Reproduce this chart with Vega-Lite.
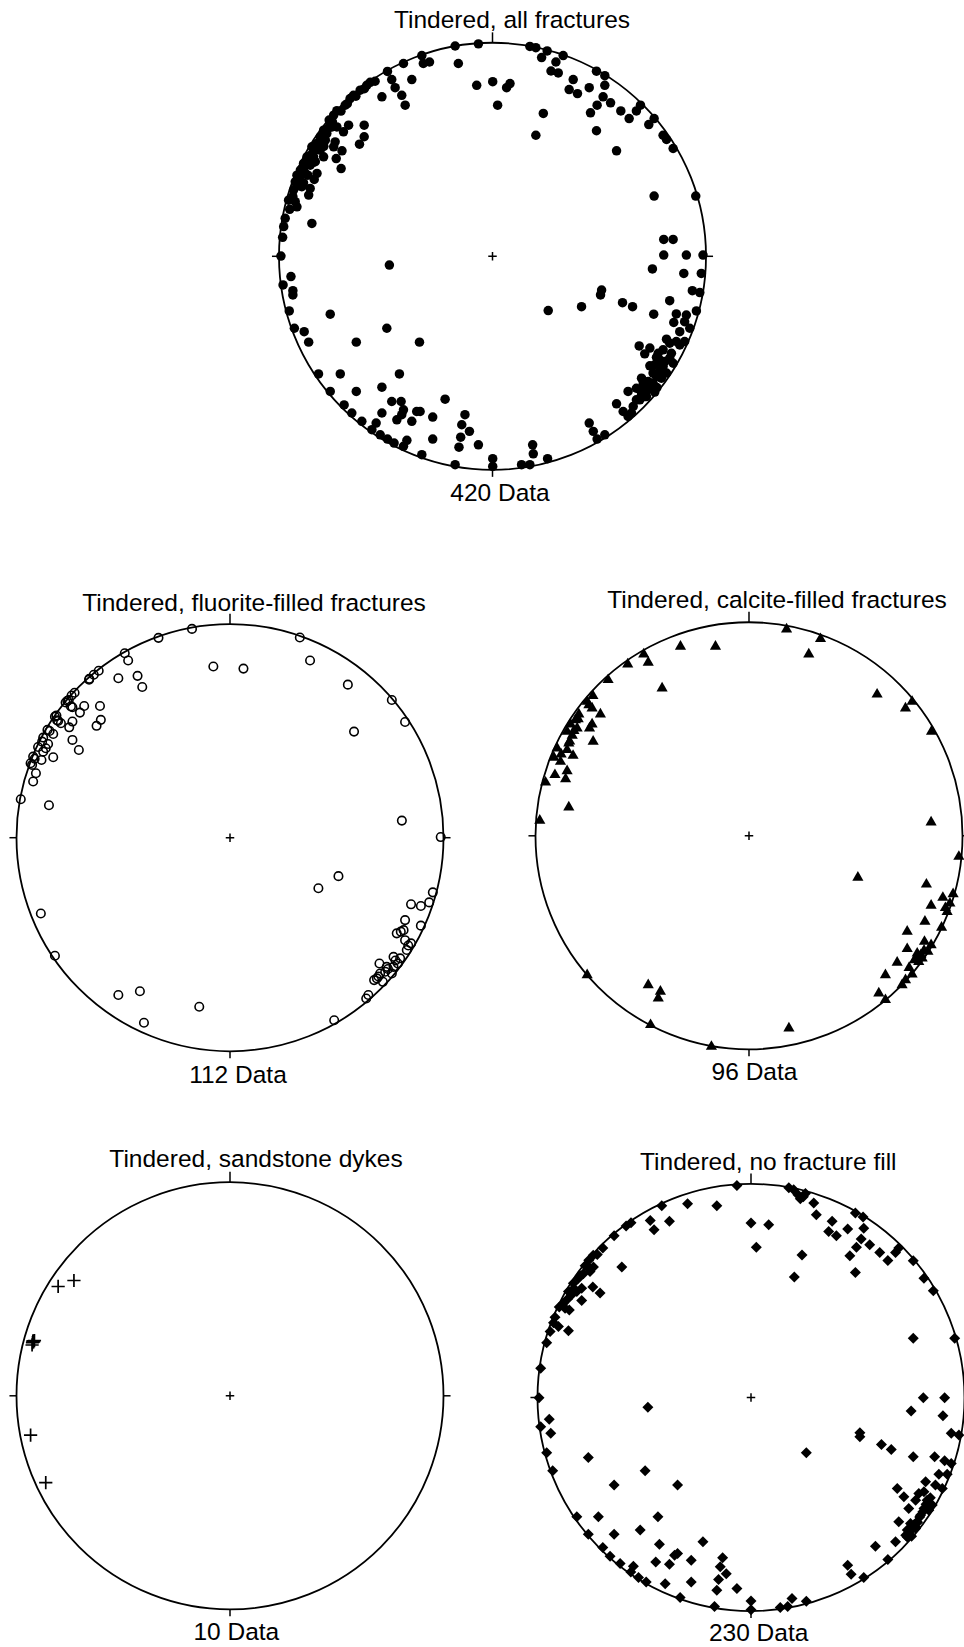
{
  "$schema": "https://vega.github.io/schema/vega-lite/v6.json",
  "padding": 0,
  "background": "white",
  "spacing": 0,
  "config": {
    "view": {"stroke": null},
    "axis": {"disable": true},
    "font": "Liberation Sans",
    "text": {"font": "Liberation Sans", "fontSize": 24.5, "color": "black"}
  },
  "datasets": {
    "net_ticks": [
      {"east": 0, "north": 100, "east2": 0, "north2": 104.9},
      {"east": 100, "north": 0, "east2": 103.3, "north2": 0},
      {"east": 0, "north": -100, "east2": 0, "north2": -103.3},
      {"east": -100, "north": 0, "east2": -103.3, "north2": 0}
    ],
    "all_fractures": [
      {"east":-17.5,"north":98.5},{"east":-6.6,"north":99.5},{"east":-33.1,"north":94.0},{"east":-29.5,"north":91.0},{"east":-32.4,"north":90.3},{"east":-16.0,"north":90.3},{"east":-41.7,"north":90.3},{"east":-49.2,"north":86.6},{"east":-47.2,"north":82.8},{"east":-37.8,"north":82.8},{"east":-7.4,"north":80.1},{"east":0.1,"north":81.8},{"east":2.4,"north":70.8},{"east":-45.6,"north":79.0},{"east":-51.8,"north":74.7},{"east":-42.5,"north":75.4},{"east":-40.9,"north":70.8},{"east":-57.3,"north":81.5},{"east":-58.9,"north":80.1},{"east":-62.0,"north":77.8},{"east":-65.1,"north":75.4},{"east":-66.7,"north":73.9},{"east":-69.0,"north":70.8},{"east":-72.9,"north":68.2},{"east":-74.4,"north":66.1},{"east":-76.5,"north":63.8},{"east":-75.2,"north":60.6},{"east":-72.9,"north":60.6},{"east":-67.4,"north":61.4},{"east":-60.1,"north":61.4},{"east":-69.8,"north":58.3},{"east":-60.1,"north":56.0},{"east":-62.3,"north":52.5},{"east":-73.7,"north":53.6},{"east":-74.4,"north":51.3},{"east":-70.5,"north":49.4},{"east":-79.1,"north":59.1},{"east":-80.7,"north":56.0},{"east":-82.2,"north":52.8},{"east":-84.6,"north":51.3},{"east":-79.1,"north":46.6},{"east":-73.2,"north":45.8},{"east":-70.9,"north":41.1},{"east":-83.8,"north":46.6},{"east":-86.9,"north":46.6},{"east":-88.5,"north":43.5},{"east":-85.4,"north":42.7},{"east":-90.0,"north":40.4},{"east":-82.2,"north":38.8},{"east":-91.6,"north":38.0},{"east":-92.4,"north":34.9},{"east":-88.5,"north":34.4},{"east":-85.4,"north":31.8},{"east":-93.2,"north":31.0},{"east":-86.1,"north":28.7},{"east":-95.5,"north":26.3},{"east":-92.4,"north":25.6},{"east":-91.6,"north":23.2},{"east":-97.1,"north":17.8},{"east":-97.8,"north":13.9},{"east":-84.6,"north":15.4},{"east":-98.3,"north":8.9},{"east":-99.1,"north":0.1},{"east":-78.3,"north":54.4},{"east":-77.6,"north":57.5},{"east":-80.7,"north":49.7},{"east":-83.0,"north":44.3},{"east":-87.7,"north":38.8},{"east":-89.3,"north":32.6},
      {"east":17.5,"north":98.3},{"east":20.3,"north":97.7},{"east":25.6,"north":96.2},{"east":23.0,"north":93.1},{"east":29.7,"north":91.0},{"east":33.1,"north":94.0},{"east":27.4,"north":86.8},{"east":30.8,"north":85.9},{"east":6.6,"north":79.0},{"east":8.2,"north":80.9},{"east":23.8,"north":66.9},{"east":20.3,"north":56.7},{"east":37.8,"north":82.8},{"east":35.9,"north":78.1},{"east":39.8,"north":76.2},{"east":45.3,"north":79.0},{"east":48.7,"north":86.7},{"east":52.6,"north":84.6},{"east":52.6,"north":80.1},{"east":51.8,"north":74.7},{"east":49.0,"north":70.8},{"east":45.9,"north":67.2},{"east":55.3,"north":71.9},{"east":60.1,"north":68.1},{"east":64.0,"north":64.5},{"east":67.4,"north":68.1},{"east":69.3,"north":70.8},{"east":48.7,"north":58.8},{"east":73.2,"north":61.7},{"east":75.7,"north":64.5},{"east":79.9,"north":56.7},{"east":81.5,"north":54.7},{"east":84.6,"north":50.5},{"east":58.1,"north":49.4},{"east":75.7,"north":28.2},{"east":95.2,"north":28.2},{"east":80.2,"north":7.9},{"east":84.6,"north":7.9},{"east":80.2,"north":0.6},{"east":90.8,"north":0.6},{"east":98.6,"north":0.6},
      {"east":-94.4,"north":-9.5},{"east":-98.1,"north":-13.4},{"east":-93.5,"north":-16.1},{"east":-93.5,"north":-18.1},{"east":-48.3,"north":-4.1},{"east":-95.2,"north":-25.6},{"east":-76.0,"north":-27.1},{"east":-92.8,"north":-33.7},{"east":-88.2,"north":-35.3},{"east":-86.1,"north":-40.2},{"east":-49.5,"north":-33.7},{"east":-63.8,"north":-40.2},{"east":-34.2,"north":-40.2},{"east":-81.5,"north":-55.1},{"east":-71.3,"north":-55.1},{"east":-43.6,"north":-55.1},{"east":-76.0,"north":-63.3},{"east":-63.8,"north":-63.3},{"east":-51.8,"north":-61.3},{"east":-69.5,"north":-69.6},{"east":-65.9,"north":-73.4},{"east":-61.2,"north":-77.3},{"east":-56.5,"north":-81.2},{"east":-54.5,"north":-78.1},{"east":-52.6,"north":-83.6},{"east":-49.2,"north":-85.6},{"east":-46.1,"north":-87.5},{"east":-41.7,"north":-89.0},{"east":-40.1,"north":-86.2},{"east":-33.1,"north":-92.9},{"east":-17.5,"north":-97.6},{"east":0.1,"north":-94.8},{"east":0.1,"north":-98.4},{"east":-51.8,"north":-73.4},{"east":-47.2,"north":-68.0},{"east":-42.8,"north":-68.0},{"east":-41.7,"north":-71.9},{"east":-42.5,"north":-74.2},{"east":-44.8,"north":-76.6},{"east":-37.8,"north":-77.3},{"east":-35.5,"north":-72.7},{"east":-33.9,"north":-72.7},{"east":-28.0,"north":-75.3},{"east":-22.2,"north":-66.9},{"east":-28.0,"north":-85.6},{"east":-12.9,"north":-74.2},{"east":-14.4,"north":-78.9},{"east":-10.8,"north":-82.0},{"east":-14.9,"north":-84.7},{"east":-15.7,"north":-89.4},{"east":-6.6,"north":-88.3},
      {"east":74.9,"north":-5.9},{"east":89.6,"north":-8.0},{"east":97.8,"north":-8.0},{"east":51.1,"north":-15.8},{"east":50.6,"north":-18.1},{"east":41.7,"north":-23.6},{"east":26.1,"north":-25.4},{"east":60.9,"north":-21.7},{"east":65.6,"north":-23.6},{"east":83.0,"north":-20.8},{"east":75.5,"north":-27.1},{"east":93.6,"north":-16.1},{"east":97.1,"north":-17.0},{"east":95.5,"north":-25.6},{"east":86.1,"north":-27.0},{"east":90.8,"north":-27.5},{"east":84.9,"north":-31.0},{"east":90.0,"north":-30.6},{"east":92.4,"north":-33.7},{"east":87.7,"north":-35.3},{"east":81.5,"north":-38.8},{"east":87.7,"north":-41.5},{"east":90.0,"north":-39.9},{"east":68.7,"north":-42.0},{"east":73.7,"north":-43.0},{"east":71.3,"north":-45.7},{"east":79.9,"north":-43.8},{"east":76.8,"north":-47.3},{"east":83.0,"north":-47.7},{"east":73.7,"north":-51.3},{"east":79.9,"north":-51.6},{"east":84.6,"north":-50.1},{"east":69.8,"north":-57.1},{"east":76.8,"north":-56.3},{"east":81.5,"north":-54.7},{"east":63.5,"north":-63.3},{"east":67.4,"north":-61.8},{"east":71.3,"north":-61.0},{"east":75.2,"north":-59.4},{"east":67.4,"north":-67.2},{"east":72.1,"north":-65.7},{"east":76.0,"north":-63.6},{"east":58.1,"north":-69.1},{"east":61.2,"north":-72.7},{"east":65.1,"north":-73.4},{"east":63.5,"north":-75.0},{"east":45.3,"north":-78.1},{"east":47.2,"north":-82.0},{"east":52.6,"north":-83.6},{"east":49.0,"north":-85.6},{"east":18.8,"north":-88.3},{"east":19.1,"north":-92.5},{"east":25.8,"north":-94.8},{"east":13.6,"north":-97.6},{"east":17.5,"north":-97.6},
      {"east":86.1,"north":-39.9},{"east":77.6,"north":-45.4},{"east":78.3,"north":-48.5},{"east":72.9,"north":-58.6},{"east":78.3,"north":-53.9},{"east":69.0,"north":-62.5},{"east":73.7,"north":-61.0},{"east":69.0,"north":-67.2},{"east":71.3,"north":-65.7},{"east":79.1,"north":-57.1},{"east":75.2,"north":-54.7},{"east":72.1,"north":-63.3},{"east":80.7,"north":-49.3},{"east":83.8,"north":-45.4},{"east":69.8,"north":-64.9},{"east":65.9,"north":-70.3},{"east":76.0,"north":-50.8},{"east":77.0,"north":-61.5},{"east":83.0,"north":-40.7},{"east":70.6,"north":-59.4},
      {"east":-80.0,"north":55.0},{"east":-82.5,"north":50.0},{"east":-85.0,"north":47.5},{"east":-87.0,"north":45.0},{"east":-88.5,"north":41.0},{"east":-90.5,"north":37.0},{"east":-91.0,"north":33.0},{"east":-77.0,"north":60.0},{"east":-75.0,"north":63.0},{"east":-71.0,"north":68.0},{"east":-68.0,"north":71.5},{"east":-64.0,"north":75.0},{"east":-60.0,"north":78.5},{"east":-55.0,"north":82.0},{"east":-86.5,"north":38.0},{"east":-84.0,"north":44.0},{"east":-79.0,"north":51.5},{"east":-83.5,"north":36.0},{"east":-93.5,"north":28.0},{"east":-95.0,"north":22.0}
    ],
    "fluorite": [
      {"east":-17.8,"north":97.8},{"east":-33.5,"north":93.6},{"east":-49.3,"north":86.4},{"east":-47.7,"north":83.0},{"east":-7.8,"north":80.2},{"east":6.3,"north":79.2},{"east":32.7,"north":93.8},{"east":37.5,"north":83.0},{"east":55.2,"north":71.7},{"east":75.8,"north":64.5},{"east":82.0,"north":54.2},{"east":58.1,"north":49.7},{"east":-52.3,"north":74.7},{"east":-43.3,"north":75.8},{"east":-41.1,"north":70.6},{"east":-61.5,"north":78.2},{"east":-63.8,"north":76.3},{"east":-65.9,"north":74.4},{"east":-72.8,"north":67.9},{"east":-74.2,"north":66.6},{"east":-76.2,"north":64.1},{"east":-68.3,"north":61.7},{"east":-73.8,"north":61.1},{"east":-70.3,"north":58.6},{"east":-60.9,"north":61.7},{"east":-60.5,"north":55.2},{"east":-62.5,"north":52.4},{"east":-81.3,"north":57.2},{"east":-80.5,"north":54.7},{"east":-79.2,"north":53.6},{"east":-73.8,"north":54.4},{"east":-75.3,"north":51.7},{"east":-85.5,"north":50.5},{"east":-82.8,"north":48.6},{"east":-87.5,"north":46.9},{"east":-85.2,"north":43.9},{"east":-73.8,"north":45.8},{"east":-70.8,"north":41.1},{"east":-89.9,"north":42.5},{"east":-87.5,"north":40.3},{"east":-92.2,"north":38.0},{"east":-88.3,"north":36.4},{"east":-82.8,"north":37.7},{"east":-93.4,"north":34.9},{"east":-92.7,"north":34.1},{"east":-90.9,"north":30.2},{"east":-92.2,"north":26.3},{"east":-98.0,"north":18.0},{"east":-84.8,"north":15.2},{"east":-86.3,"north":41.9},{"east":-82.0,"north":56.7},{"east":-77.0,"north":63.3},
      {"east":80.5,"north":8.0},{"east":98.7,"north":0.3},{"east":50.8,"north":-18.0},{"east":41.4,"north":-23.7},{"east":95.0,"north":-25.6},{"east":93.3,"north":-30.3},{"east":84.8,"north":-31.2},{"east":89.4,"north":-32.0},{"east":82.0,"north":-38.6},{"east":89.4,"north":-41.2},{"east":81.3,"north":-43.3},{"east":78.1,"north":-44.8},{"east":82.0,"north":-48.0},{"east":84.8,"north":-49.5},{"east":82.8,"north":-52.6},{"east":76.6,"north":-55.8},{"east":79.7,"north":-56.5},{"east":70.0,"north":-58.9},{"east":73.4,"north":-60.5},{"east":76.6,"north":-60.5},{"east":78.6,"north":-58.9},{"east":72.7,"north":-62.8},{"east":75.8,"north":-63.6},{"east":70.3,"north":-63.6},{"east":67.5,"north":-66.7},{"east":71.6,"north":-67.5},{"east":68.8,"north":-65.9},{"east":64.8,"north":-73.7},{"east":63.8,"north":-75.3},{"east":48.8,"north":-85.5},
      {"east":-88.6,"north":-35.5},{"east":-82.0,"north":-55.3},{"east":-52.3,"north":-73.7},{"east":-42.2,"north":-71.9},{"east":-14.4,"north":-79.2},{"east":-40.3,"north":-86.7},
      {"east":-84.5,"north":50.0},{"east":-75.5,"north":64.5},{"east":-88.0,"north":45.0},{"east":-91.5,"north":37.0},{"east":-74.5,"north":61.5},{"east":77.5,"north":-57.5},{"east":74.0,"north":-61.5},{"east":80.0,"north":-44.0},{"east":69.5,"north":-65.0},{"east":83.5,"north":-50.5},{"east":-66.0,"north":74.0},{"east":-81.0,"north":55.0}
    ],
    "calcite": [
      {"east":17.6,"north":97.5},{"east":33.5,"north":93.0},{"east":28.0,"north":85.8},{"east":-32.1,"north":89.4},{"east":-15.7,"north":89.4},{"east":-49.3,"north":85.8},{"east":-47.2,"north":81.9},{"east":-56.8,"north":81.1},{"east":-66.0,"north":73.8},{"east":-40.7,"north":69.9},{"east":-73.1,"north":66.3},{"east":-75.8,"north":63.6},{"east":-73.5,"north":60.5},{"east":-69.6,"north":57.7},{"east":-79.7,"north":57.7},{"east":-81.3,"north":55.0},{"east":-73.5,"north":53.0},{"east":-74.7,"north":51.1},{"east":-80.5,"north":51.1},{"east":-83.6,"north":53.0},{"east":-85.2,"north":49.6},{"east":-82.8,"north":47.7},{"east":-73.0,"north":44.9},{"east":-84.4,"north":44.1},{"east":-89.9,"north":41.8},{"east":-85.2,"north":41.0},{"east":-82.4,"north":38.3},{"east":-91.4,"north":37.4},{"east":-88.3,"north":35.5},{"east":-85.2,"north":31.1},{"east":-90.9,"north":29.3},{"east":-85.9,"north":27.4},{"east":-95.3,"north":25.8},{"east":-84.4,"north":14.1},{"east":-98.0,"north":7.9},{"east":60.0,"north":67.0},{"east":76.4,"north":63.6},{"east":73.3,"north":60.5},{"east":85.5,"north":49.6},{"east":85.3,"north":7.1},{"east":98.3,"north":-9.0},
      {"east":51.0,"north":-18.8},{"east":83.1,"north":-22.0},{"east":95.6,"north":-26.5},{"east":90.8,"north":-28.2},{"east":94.1,"north":-30.9},{"east":85.3,"north":-31.9},{"east":92.8,"north":-34.8},{"east":82.4,"north":-39.4},{"east":90.2,"north":-42.2},{"east":74.1,"north":-44.1},{"east":82.2,"north":-48.8},{"east":85.3,"north":-50.4},{"east":74.1,"north":-52.2},{"east":83.8,"north":-53.5},{"east":78.8,"north":-54.3},{"east":81.1,"north":-56.6},{"east":77.5,"north":-57.4},{"east":79.5,"north":-58.2},{"east":69.4,"north":-58.6},{"east":76.4,"north":-64.1},{"east":63.9,"north":-64.4},{"east":73.3,"north":-66.8},{"east":71.7,"north":-69.1},{"east":60.8,"north":-73.0},{"east":63.9,"north":-76.1},
      {"east":-75.8,"north":-64.4},{"east":-47.2,"north":-69.1},{"east":-41.5,"north":-72.2},{"east":-42.5,"north":-75.3},{"east":-46.1,"north":-87.8},{"east":18.7,"north":-89.4},{"east":-17.6,"north":-98.0},
      {"east":-80.0,"north":55.5},{"east":-84.0,"north":45.0},{"east":-88.0,"north":39.0},{"east":80.5,"north":-55.0},{"east":78.0,"north":-57.0},{"east":82.0,"north":-53.0},{"east":75.0,"north":-61.0},{"east":92.0,"north":-33.0},{"east":-75.0,"north":62.0},{"east":-82.0,"north":50.0}
    ],
    "sandstone_dykes": [
      {"east":-80.5,"north":51.2},{"east":-73.1,"north":54.0},{"east":-92.2,"north":25.7},{"east":-92.5,"north":24.9},{"east":-91.6,"north":25.8},{"east":-92.7,"north":23.8},{"east":-92.0,"north":25.2},{"east":-92.3,"north":25.5},{"east":-93.4,"north":-18.4},{"east":-86.3,"north":-40.7}
    ],
    "no_fill": [
      {"east":-6.6,"north":99.3},{"east":17.7,"north":98.3},{"east":20.0,"north":97.3},{"east":23.1,"north":93.1},{"east":25.5,"north":95.5},{"east":29.4,"north":91.1},{"east":30.6,"north":85.6},{"east":38.0,"north":82.5},{"east":36.4,"north":77.8},{"east":40.0,"north":75.8},{"east":45.3,"north":78.9},{"east":48.9,"north":86.4},{"east":52.5,"north":84.5},{"east":52.8,"north":79.3},{"east":51.6,"north":74.2},{"east":49.4,"north":70.4},{"east":55.6,"north":71.5},{"east":46.3,"north":66.4},{"east":60.3,"north":67.9},{"east":64.1,"north":64.2},{"east":67.7,"north":67.9},{"east":69.2,"north":70.0},{"east":76.0,"north":64.0},{"east":81.0,"north":55.9},{"east":85.4,"north":50.0},{"east":48.9,"north":58.6},{"east":23.9,"north":66.8},{"east":20.3,"north":56.4},{"east":0.0,"north":81.7},{"east":8.3,"north":80.9},{"east":2.5,"north":70.4},{"east":-16.0,"north":89.8},{"east":-29.7,"north":90.8},{"east":-41.8,"north":89.8},{"east":-38.2,"north":82.5},{"east":-47.2,"north":82.9},{"east":-45.4,"north":78.6},{"east":-58.5,"north":80.3},{"east":-56.2,"north":81.9},{"east":-64.1,"north":75.8},{"east":-69.4,"north":70.0},{"east":-73.9,"north":66.6},{"east":-76.0,"north":64.3},{"east":-77.7,"north":61.7},{"east":-73.8,"north":61.1},{"east":-75.4,"north":59.0},{"east":-60.5,"north":61.1},{"east":-80.8,"north":55.9},{"east":-83.2,"north":53.5},{"east":-79.3,"north":51.2},{"east":-74.1,"north":51.7},{"east":-70.7,"north":48.9},{"east":-85.5,"north":49.6},{"east":-84.0,"north":48.1},{"east":-81.6,"north":49.6},{"east":-79.3,"north":45.4},{"east":-89.8,"north":42.4},{"east":-87.1,"north":41.8},{"east":-85.1,"north":41.0},{"east":-91.8,"north":37.6},{"east":-90.2,"north":33.2},{"east":-85.5,"north":31.3},{"east":-94.1,"north":30.9},{"east":-95.7,"north":25.7},{"east":-98.5,"north":13.7},{"east":76.0,"north":27.8},{"east":95.4,"north":27.8},
      {"east":-99.3,"north":-0.1},{"east":-48.3,"north":-4.6},{"east":-94.5,"north":-10.2},{"east":-98.5,"north":-13.7},{"east":-93.8,"north":-16.8},{"east":80.7,"north":-0.1},{"east":90.7,"north":-0.1},{"east":75.0,"north":-6.3},{"east":89.9,"north":-8.5},{"east":51.0,"north":-16.5},{"east":51.0,"north":-18.4},{"east":93.8,"north":-16.8},{"east":97.4,"north":-17.6},{"east":61.1,"north":-22.0},{"east":65.7,"north":-24.3},{"east":25.9,"north":-25.9},{"east":-76.2,"north":-28.1},{"east":-95.7,"north":-25.9},{"east":76.0,"north":-27.8},{"east":86.0,"north":-27.8},{"east":90.7,"north":-29.6},{"east":93.8,"north":-30.9},{"east":-92.9,"north":-34.3},{"east":-49.6,"north":-34.3},{"east":-64.1,"north":-41.0},{"east":-34.4,"north":-41.0},{"east":88.0,"north":-35.9},{"east":91.9,"north":-35.9},{"east":81.8,"north":-39.5},{"east":86.4,"north":-41.0},{"east":89.6,"north":-42.6},{"east":68.5,"north":-42.6},{"east":71.6,"north":-46.5},{"east":78.6,"north":-45.0},{"east":77.1,"north":-48.1},{"east":82.5,"north":-48.1},{"east":84.9,"north":-50.4},{"east":73.9,"north":-52.0},{"east":81.0,"north":-52.0},{"east":79.4,"north":-55.1},{"east":83.3,"north":-52.8},{"east":69.2,"north":-58.2},{"east":74.7,"north":-59.0},{"east":77.8,"north":-58.2},{"east":73.2,"north":-62.1},{"east":77.1,"north":-61.4},{"east":75.2,"north":-65.0},{"east":67.7,"north":-67.6},{"east":73.2,"north":-65.3},{"east":58.3,"north":-69.7},{"east":64.1,"north":-75.9},{"east":45.3,"north":-78.6},{"east":46.9,"north":-82.8},{"east":52.8,"north":-84.3},{"east":-81.6,"north":-55.9},{"east":-71.5,"north":-55.9},{"east":-43.6,"north":-55.9},{"east":-76.2,"north":-64.0},{"east":-64.1,"north":-64.0},{"east":-51.9,"north":-62.1},{"east":-69.4,"north":-70.3},{"east":-66.0,"north":-74.3},{"east":-42.9,"north":-68.7},{"east":-22.5,"north":-67.6},{"east":-61.3,"north":-77.8},{"east":-55.1,"north":-79.0},{"east":-56.3,"north":-81.7},{"east":-52.7,"north":-84.3},{"east":-49.1,"north":-86.4},{"east":-44.6,"north":-77.0},{"east":-38.2,"north":-78.1},{"east":-35.8,"north":-73.9},{"east":-34.4,"north":-73.1},{"east":-28.0,"north":-76.2},{"east":-40.2,"north":-87.2},{"east":-28.0,"north":-86.4},{"east":-33.2,"north":-93.7},{"east":-13.3,"north":-75.0},{"east":-14.4,"north":-79.3},{"east":-11.6,"north":-82.5},{"east":-15.2,"north":-85.3},{"east":-16.0,"north":-90.3},{"east":-6.6,"north":-89.5},{"east":-17.1,"north":-97.9},{"east":0.0,"north":-95.3},{"east":0.0,"north":-99.4},{"east":13.7,"north":-98.4},{"east":17.2,"north":-97.9},{"east":19.2,"north":-94.2},{"east":25.9,"north":-95.4},{"east":81.0,"north":-44.2},
      {"east":-78.5,"north":58.0},{"east":-80.0,"north":57.0},{"east":-83.0,"north":51.0},{"east":-86.0,"north":46.0},{"east":-88.0,"north":44.0},{"east":-92.5,"north":35.0},{"east":-77.0,"north":62.0},{"east":-72.0,"north":67.0},{"east":75.0,"north":-62.0},{"east":76.5,"north":-59.5},{"east":79.0,"north":-56.0},{"east":80.5,"north":-53.5},{"east":74.0,"north":-63.5},{"east":82.0,"north":-50.0},{"east":84.0,"north":-47.0},{"east":72.5,"north":-64.5},{"east":78.0,"north":-58.5},{"east":77.0,"north":-60.5},{"east":22.0,"north":95.0},{"east":24.5,"north":94.0}
    ]
  },
  "vconcat": [
    {
      "width": 964,
      "height": 546,
      "encoding": {
        "x": {"type": "quantitative", "scale": {"domain": [-230.68, 220.84], "nice": false, "zero": false}},
        "y": {"type": "quantitative", "scale": {"domain": [-135.69, 120.05], "nice": false, "zero": false}}
      },
      "layer": [
        {"data": {"name": "net_ticks"}, "mark": {"type": "rule", "color": "black", "strokeWidth": 1.5}, "encoding": {"x": {"field": "east"}, "y": {"field": "north"}, "x2": {"field": "east2"}, "y2": {"field": "north2"}}},
        {"data": {"values": [{}]}, "mark": {"type": "point", "shape": "circle", "filled": false, "size": 182329, "color": "black", "strokeWidth": 1.8, "opacity": 1}, "encoding": {"x": {"datum": 0}, "y": {"datum": 0}}},
        {"data": {"values": [{}]}, "mark": {"type": "point", "shape": "M-1,0H1M0,-1V1", "filled": false, "size": 72, "color": "black", "strokeWidth": 1.5, "opacity": 1}, "encoding": {"x": {"datum": 0}, "y": {"datum": 0}}},
        {"data": {"name": "all_fractures"}, "mark": {"type": "point", "shape": "circle", "filled": true, "size": 90, "color": "black", "strokeWidth": 0, "opacity": 1}, "encoding": {"x": {"field": "east"}, "y": {"field": "north"}}},
        {"data": {"values": [{}]}, "mark": {"type": "text", "align": "center", "baseline": "alphabetic", "dx": 19.5, "dy": -14.5}, "encoding": {"x": {"datum": 0}, "y": {"datum": 100}, "text": {"value": "Tindered, all fractures"}}},
        {"data": {"values": [{}]}, "mark": {"type": "text", "align": "center", "baseline": "alphabetic", "dx": 7.5, "dy": 31.5}, "encoding": {"x": {"datum": 0}, "y": {"datum": -100}, "text": {"value": "420 Data"}}}
      ]
    },
    {
      "spacing": 0,
      "hconcat": [
        {
          "width": 518.5,
          "height": 570,
          "encoding": {
            "x": {"type": "quantitative", "scale": {"domain": [-107.73, 135.13], "nice": false, "zero": false}},
            "y": {"type": "quantitative", "scale": {"domain": [-130.35, 136.63], "nice": false, "zero": false}}
          },
          "layer": [
            {"data": {"name": "net_ticks"}, "mark": {"type": "rule", "color": "black", "strokeWidth": 1.5}, "encoding": {"x": {"field": "east"}, "y": {"field": "north"}, "x2": {"field": "east2"}, "y2": {"field": "north2"}}},
            {"data": {"values": [{}]}, "mark": {"type": "point", "shape": "circle", "filled": false, "size": 182329, "color": "black", "strokeWidth": 1.8, "opacity": 1}, "encoding": {"x": {"datum": 0}, "y": {"datum": 0}}},
            {"data": {"values": [{}]}, "mark": {"type": "point", "shape": "M-1,0H1M0,-1V1", "filled": false, "size": 72, "color": "black", "strokeWidth": 1.5, "opacity": 1}, "encoding": {"x": {"datum": 0}, "y": {"datum": 0}}},
            {"data": {"name": "fluorite"}, "mark": {"type": "point", "shape": "circle", "filled": false, "size": 72, "color": "black", "strokeWidth": 1.6, "opacity": 1}, "encoding": {"x": {"field": "east"}, "y": {"field": "north"}}},
            {"data": {"values": [{}]}, "mark": {"type": "text", "align": "center", "baseline": "alphabetic", "dx": 24, "dy": -13.5}, "encoding": {"x": {"datum": 0}, "y": {"datum": 100}, "text": {"value": "Tindered, fluorite-filled fractures"}}},
            {"data": {"values": [{}]}, "mark": {"type": "text", "align": "center", "baseline": "alphabetic", "dx": 8, "dy": 31.5}, "encoding": {"x": {"datum": 0}, "y": {"datum": -100}, "text": {"value": "112 Data"}}}
          ]
        },
        {
          "width": 445.5,
          "height": 570,
          "encoding": {
            "x": {"type": "quantitative", "scale": {"domain": [-107.73, 100.94], "nice": false, "zero": false}},
            "y": {"type": "quantitative", "scale": {"domain": [-131.24, 135.74], "nice": false, "zero": false}}
          },
          "layer": [
            {"data": {"name": "net_ticks"}, "mark": {"type": "rule", "color": "black", "strokeWidth": 1.5, "clip": true}, "encoding": {"x": {"field": "east"}, "y": {"field": "north"}, "x2": {"field": "east2"}, "y2": {"field": "north2"}}},
            {"data": {"values": [{}]}, "mark": {"type": "point", "shape": "circle", "filled": false, "size": 182329, "color": "black", "strokeWidth": 1.8, "opacity": 1, "clip": true}, "encoding": {"x": {"datum": 0}, "y": {"datum": 0}}},
            {"data": {"values": [{}]}, "mark": {"type": "point", "shape": "M-1,0H1M0,-1V1", "filled": false, "size": 72, "color": "black", "strokeWidth": 1.5, "opacity": 1}, "encoding": {"x": {"datum": 0}, "y": {"datum": 0}}},
            {"data": {"name": "calcite"}, "mark": {"type": "point", "shape": "triangle-up", "filled": true, "size": 125, "color": "black", "strokeWidth": 0, "opacity": 1, "clip": true}, "encoding": {"x": {"field": "east"}, "y": {"field": "north"}}},
            {"data": {"values": [{}]}, "mark": {"type": "text", "align": "center", "baseline": "alphabetic", "dx": 28, "dy": -14}, "encoding": {"x": {"datum": 0}, "y": {"datum": 100}, "text": {"value": "Tindered, calcite-filled fractures"}}},
            {"data": {"values": [{}]}, "mark": {"type": "text", "align": "center", "baseline": "alphabetic", "dx": 5.5, "dy": 30.7}, "encoding": {"x": {"datum": 0}, "y": {"datum": -100}, "text": {"value": "96 Data"}}}
          ]
        }
      ]
    },
    {
      "spacing": 0,
      "hconcat": [
        {
          "width": 520.7,
          "height": 531,
          "encoding": {
            "x": {"type": "quantitative", "scale": {"domain": [-107.73, 136.16], "nice": false, "zero": false}},
            "y": {"type": "quantitative", "scale": {"domain": [-117.66, 131.05], "nice": false, "zero": false}}
          },
          "layer": [
            {"data": {"name": "net_ticks"}, "mark": {"type": "rule", "color": "black", "strokeWidth": 1.5}, "encoding": {"x": {"field": "east"}, "y": {"field": "north"}, "x2": {"field": "east2"}, "y2": {"field": "north2"}}},
            {"data": {"values": [{}]}, "mark": {"type": "point", "shape": "circle", "filled": false, "size": 182329, "color": "black", "strokeWidth": 1.8, "opacity": 1}, "encoding": {"x": {"datum": 0}, "y": {"datum": 0}}},
            {"data": {"values": [{}]}, "mark": {"type": "point", "shape": "M-1,0H1M0,-1V1", "filled": false, "size": 72, "color": "black", "strokeWidth": 1.5, "opacity": 1}, "encoding": {"x": {"datum": 0}, "y": {"datum": 0}}},
            {"data": {"name": "sandstone_dykes"}, "mark": {"type": "point", "shape": "M-1,0H1M0,-1V1", "filled": false, "size": 175, "color": "black", "strokeWidth": 1.7, "opacity": 1}, "encoding": {"x": {"field": "east"}, "y": {"field": "north"}}},
            {"data": {"values": [{}]}, "mark": {"type": "text", "align": "center", "baseline": "alphabetic", "dx": 26, "dy": -15}, "encoding": {"x": {"datum": 0}, "y": {"datum": 100}, "text": {"value": "Tindered, sandstone dykes"}}},
            {"data": {"values": [{}]}, "mark": {"type": "text", "align": "center", "baseline": "alphabetic", "dx": 6.3, "dy": 30.7}, "encoding": {"x": {"datum": 0}, "y": {"datum": -100}, "text": {"value": "10 Data"}}}
          ]
        },
        {
          "width": 443.3,
          "height": 531,
          "encoding": {
            "x": {"type": "quantitative", "scale": {"domain": [-107.73, 99.91], "nice": false, "zero": false}},
            "y": {"type": "quantitative", "scale": {"domain": [-116.86, 131.85], "nice": false, "zero": false}}
          },
          "layer": [
            {"data": {"name": "net_ticks"}, "mark": {"type": "rule", "color": "black", "strokeWidth": 1.5, "clip": true}, "encoding": {"x": {"field": "east"}, "y": {"field": "north"}, "x2": {"field": "east2"}, "y2": {"field": "north2"}}},
            {"data": {"values": [{}]}, "mark": {"type": "point", "shape": "circle", "filled": false, "size": 182329, "color": "black", "strokeWidth": 1.8, "opacity": 1, "clip": true}, "encoding": {"x": {"datum": 0}, "y": {"datum": 0}}},
            {"data": {"values": [{}]}, "mark": {"type": "point", "shape": "M-1,0H1M0,-1V1", "filled": false, "size": 72, "color": "black", "strokeWidth": 1.5, "opacity": 1}, "encoding": {"x": {"datum": 0}, "y": {"datum": 0}}},
            {"data": {"name": "no_fill"}, "mark": {"type": "point", "shape": "diamond", "filled": true, "size": 121, "color": "black", "strokeWidth": 0, "opacity": 1, "clip": true}, "encoding": {"x": {"field": "east"}, "y": {"field": "north"}}},
            {"data": {"values": [{}]}, "mark": {"type": "text", "align": "center", "baseline": "alphabetic", "dx": 17.3, "dy": -14}, "encoding": {"x": {"datum": 0}, "y": {"datum": 100}, "text": {"value": "Tindered, no fracture fill"}}},
            {"data": {"values": [{}]}, "mark": {"type": "text", "align": "center", "baseline": "alphabetic", "dx": 7.6, "dy": 29.7}, "encoding": {"x": {"datum": 0}, "y": {"datum": -100}, "text": {"value": "230 Data"}}}
          ]
        }
      ]
    }
  ]
}
